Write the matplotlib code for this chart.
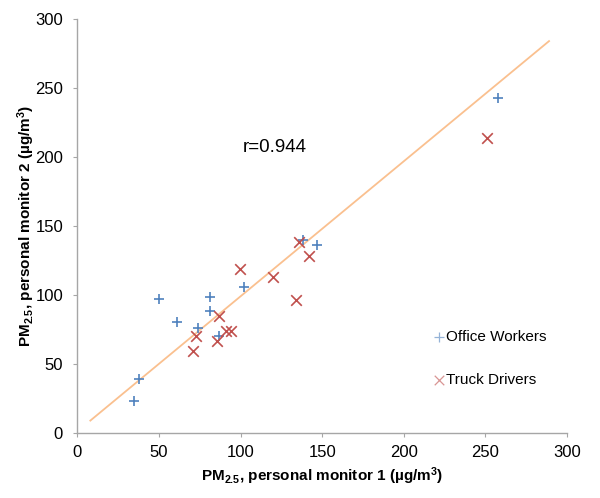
import matplotlib
matplotlib.use("Agg")
import matplotlib.pyplot as plt

plt.rcParams['font.family'] = ['Liberation Sans', 'DejaVu Sans']
plt.rcParams['mathtext.fontset'] = 'custom'
plt.rcParams['mathtext.rm'] = 'Liberation Sans:bold'
plt.rcParams['mathtext.default'] = 'rm'

office_x = [35, 38, 50, 61, 74, 81, 81.5, 87, 102, 138, 147, 258]
office_y = [23, 39, 97, 80.5, 76, 98.5, 88.5, 70.5, 106, 140, 136, 243]

truck_x = [71, 73, 85.5, 87, 91, 94, 99.5, 120, 134, 136, 142, 251]
truck_y = [59.5, 70, 66.5, 84.5, 74, 74, 118.5, 113, 96.5, 138.5, 128, 214]

trend_x = [8, 289]
trend_y = [9, 284]

x_ticks = [0, 50, 100, 150, 200, 250, 300]
y_ticks = [0, 50, 100, 150, 200, 250, 300]

fig = plt.figure(figsize=(6.0, 4.98), dpi=100)
ax = fig.add_axes([0.1288, 0.1305, 0.8162, 0.8313])

ax.plot(trend_x, trend_y, color='#FAC08F', lw=1.3, zorder=1)
ax.scatter(office_x, office_y, marker='+', s=60, color='#4F81BD', linewidths=1.2,
           label='Office Workers', zorder=3)
ax.scatter(truck_x, truck_y, marker='x', s=58, color='#C0504D', linewidths=1.2,
           label='Truck Drivers', zorder=3)

ax.text(101.5, 207, 'r=0.944', fontsize=13.5, ha='left', va='center', color='#000000')

ax.set_xlim(0, 300)
ax.set_ylim(0, 300)
ax.set_xticks(x_ticks)
ax.set_yticks(y_ticks)
for s in ['top', 'right']:
    ax.spines[s].set_visible(False)
for s in ['left', 'bottom']:
    ax.spines[s].set_color('#A6A6A6')
    ax.spines[s].set_linewidth(1.0)
ax.tick_params(axis='both', direction='out', length=3.2, color='#A6A6A6',
               labelsize=12, labelcolor='#000000')
ax.tick_params(axis='x', pad=5.5)
ax.tick_params(axis='y', pad=7)

ax.set_xlabel('PM$_{2.5}$, personal monitor 1 (\u00b5g/m$^{3}$)', fontsize=11,
              fontweight='bold')
ax.set_ylabel('PM$_{2.5}$, personal monitor 2 (\u00b5g/m$^{3}$)', fontsize=11,
              fontweight='bold')
ax.xaxis.set_label_coords(0.5, -0.079)
ax.yaxis.set_label_coords(-0.082, 0.5)

leg = ax.legend(loc='center left', bbox_to_anchor=(0.702, 0.18), frameon=False,
                fontsize=11, handlelength=0.6, handletextpad=0.15, labelspacing=1.9,
                markerscale=0.9)
for h in leg.legend_handles:
    h.set_alpha(0.6)
    h.set_linewidth(0.9)

fig.savefig('out.png', dpi=100)
